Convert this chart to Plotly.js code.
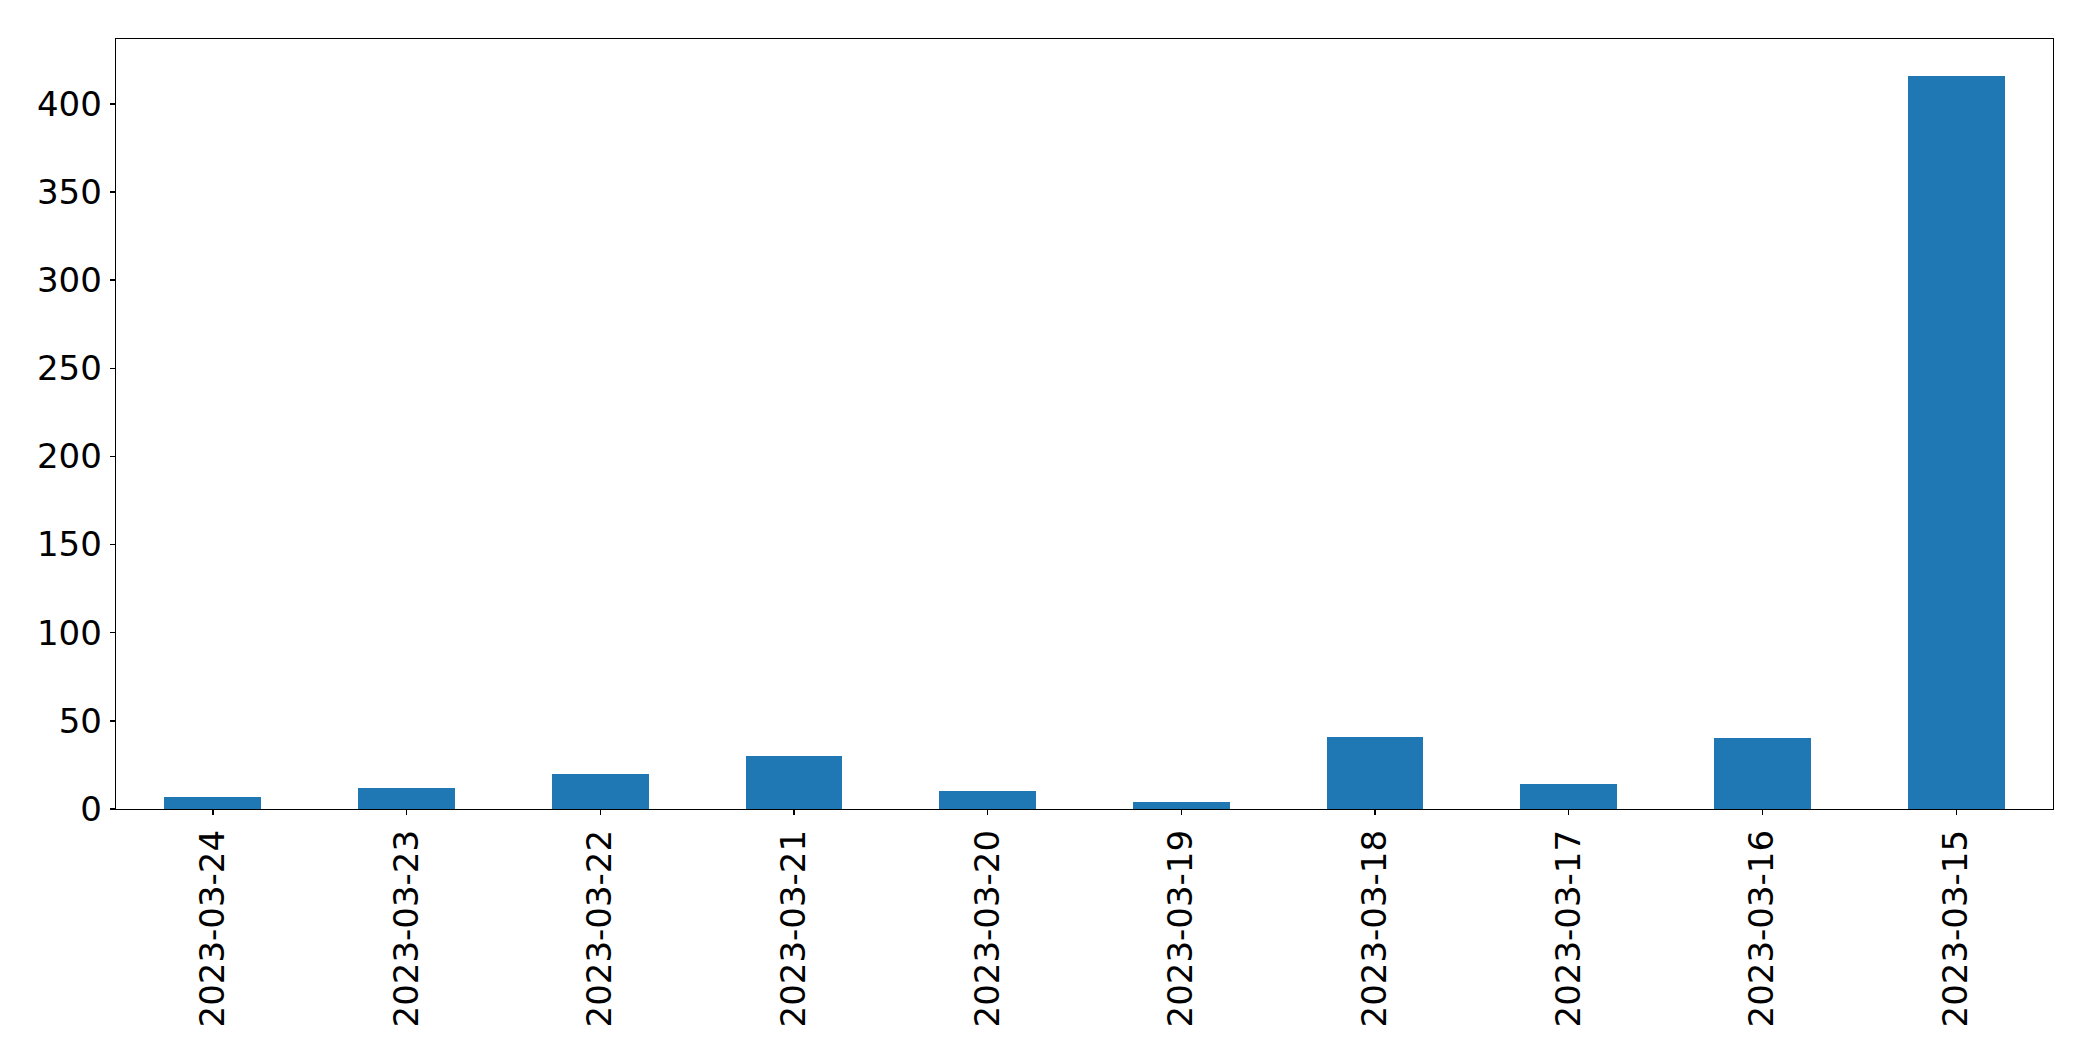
<!DOCTYPE html>
<html>
<head>
<meta charset="utf-8">
<script src="https://cdn.plot.ly/plotly-3.0.1.min.js"></script>
<style>html,body{margin:0;padding:0;background:#fff;}#chart{width:2093px;height:1061px;}</style>
</head>
<body>
<div id="chart"></div>
<script>
const dates = ["2023-03-24","2023-03-23","2023-03-22","2023-03-21","2023-03-20","2023-03-19","2023-03-18","2023-03-17","2023-03-16","2023-03-15"];
const counts = [7, 12, 20, 30, 10, 4, 41, 14, 40, 416];
const yTicks = [0, 50, 100, 150, 200, 250, 300, 350, 400];

const trace = {
  type: 'bar',
  x: dates.map((d, i) => i),
  y: counts,
  width: 0.5,
  marker: {color: '#1f77b4', line: {width: 0}},
  hoverinfo: 'x+y'
};

const font = {family: 'DejaVu Sans', size: 34, color: '#000'};
const layout = {
  width: 2093, height: 1061,
  margin: {l: 116, r: 40, t: 39, b: 252, pad: 0},
  paper_bgcolor: '#fff', plot_bgcolor: '#fff',
  showlegend: false,
  bargap: 0,
  xaxis: {
    range: [-0.5, 9.5],
    tickmode: 'array',
    tickvals: dates.map((d, i) => i),
    ticktext: dates,
    tickangle: -90,
    tickfont: font,
    ticks: 'outside', ticklen: 5, tickwidth: 1.3, tickcolor: '#000',
    ticklabelstandoff: 1,
    showline: true, linecolor: '#000', linewidth: 1.3, mirror: true,
    showgrid: false, zeroline: false
  },
  yaxis: {
    range: [0, 436.8],
    tickmode: 'array',
    tickvals: yTicks,
    ticktext: yTicks.map(String),
    tickfont: font,
    ticks: 'outside', ticklen: 5, tickwidth: 1.3, tickcolor: '#000',
    ticklabelstandoff: 1,
    showline: true, linecolor: '#000', linewidth: 1.3, mirror: true,
    showgrid: false, zeroline: false
  }
};

Plotly.newPlot('chart', [trace], layout, {displayModeBar: false, staticPlot: true});
</script>
</body>
</html>
